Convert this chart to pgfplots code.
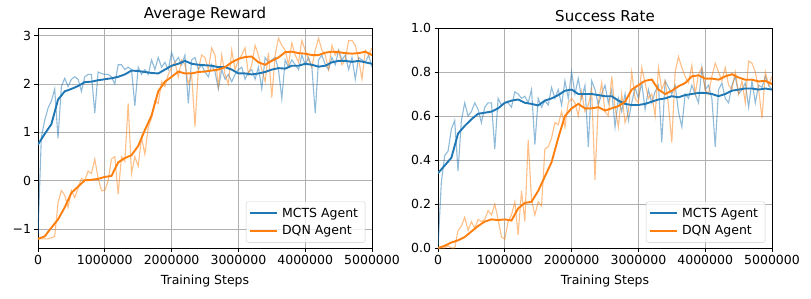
\documentclass[border=0pt]{standalone}
\usepackage{fontspec}
\setmainfont{DejaVu Sans}
\usepackage{pgfplots}
\usepackage{pgfplotstable}
\pgfplotsset{compat=1.18}
\definecolor{tblue}{HTML}{1F77B4}
\definecolor{torange}{HTML}{FF7F0E}
\definecolor{gridgray}{HTML}{B0B0B0}

\pgfplotstableread{
x mr dr ms ds
0 -1.1 -1.2 0.0 0.0
50000 0.9 -1.2 0.30 0.0
100000 1.25 -1.2 0.42 0.0
150000 1.5 -1.2 0.44 0.01
200000 1.65 -1.18 0.54 0.0
250000 1.9 -1.15 0.58 0.0
300000 0.88 -0.45 0.35 0.08
350000 1.95 -0.2 0.58 0.10
400000 2.12 -0.3 0.66 0.14
450000 1.95 -0.55 0.60 0.08
500000 2.1 -0.2 0.62 0.12
550000 2.15 -0.35 0.66 0.09
600000 2.1 -0.15 0.63 0.13
650000 1.85 0.05 0.57 0.12
700000 2.15 0.0 0.64 0.13
750000 2.2 0.2 0.66 0.17
800000 2.2 0.15 0.66 0.15
850000 1.4 0.45 0.45 0.20
900000 2.25 0.05 0.68 0.13
950000 2.22 -0.2 0.65 0.05
1000000 2.2 -0.2 0.66 0.04
1050000 2.2 0.0 0.66 0.12
1100000 2.15 0.45 0.64 0.15
1150000 2.0 0.5 0.71 0.21
1200000 2.4 -0.28 0.70 0.06
1250000 2.4 0.5 0.68 0.26
1300000 2.3 0.4 0.69 0.12
1350000 2.35 1.6 0.66 0.49
1400000 2.3 0.15 0.72 0.22
1450000 1.55 0.5 0.47 0.15
1500000 2.35 0.3 0.68 0.21
1550000 2.2 0.9 0.64 0.19
1600000 2.3 0.55 0.67 0.45
1650000 2.2 1.1 0.65 0.46
1700000 2.5 1.3 0.73 0.50
1750000 2.3 1.65 0.68 0.57
1800000 2.55 1.6 0.72 0.56
1850000 2.35 2.05 0.65 0.62
1900000 2.45 1.95 0.76 0.55
1950000 2.3 2.2 0.68 0.66
2000000 2.65 2.35 0.80 0.68
2050000 2.45 2.45 0.70 0.66
2100000 2.55 2.15 0.77 0.60
2150000 2.4 2.5 0.68 0.71
2200000 2.6 2.4 0.74 0.62
2250000 1.6 2.0 0.46 0.65
2300000 2.5 2.2 0.76 0.72
2350000 2.55 1.12 0.72 0.31
2400000 2.3 2.3 0.65 0.66
2450000 2.4 2.6 0.70 0.75
2500000 2.25 2.55 0.74 0.62
2550000 2.15 2.3 0.66 0.60
2600000 2.4 2.75 0.72 0.78
2650000 2.25 2.6 0.55 0.64
2700000 1.9 1.95 0.68 0.55
2750000 2.3 2.6 0.62 0.70
2800000 2.1 2.2 0.70 0.57
2850000 2.2 2.0 0.58 0.62
2900000 2.05 2.7 0.66 0.80
2950000 2.2 2.3 0.73 0.68
3000000 2.3 2.5 0.68 0.66
3050000 2.35 2.6 0.75 0.82
3100000 2.1 2.75 0.63 0.75
3150000 2.25 2.2 0.72 0.68
3200000 2.3 2.4 0.66 0.70
3250000 2.1 2.8 0.71 0.60
3300000 2.35 2.6 0.74 0.82
3350000 1.9 2.3 0.48 0.72
3400000 2.55 2.05 0.76 0.76
3450000 2.45 2.65 0.73 0.65
3500000 2.5 1.72 0.70 0.48
3550000 2.55 2.6 0.74 0.80
3600000 2.3 2.95 0.62 0.87
3650000 1.7 2.8 0.55 0.82
3700000 2.5 2.7 0.70 0.78
3750000 2.35 2.4 0.68 0.75
3800000 2.5 2.85 0.74 0.83
3850000 2.4 2.6 0.70 0.70
3900000 2.3 2.45 0.66 0.79
3950000 2.6 2.9 0.82 0.82
4000000 2.4 2.7 0.72 0.72
4050000 2.55 2.5 0.74 0.70
4100000 2.35 2.35 0.68 0.78
4150000 1.4 2.7 0.46 0.84
4200000 2.5 2.95 0.72 0.80
4250000 2.6 2.7 0.75 0.76
4300000 2.4 2.6 0.68 0.82
4350000 2.3 2.3 0.66 0.74
4400000 2.55 2.8 0.74 0.72
4450000 2.4 2.6 0.78 0.80
4500000 2.7 2.7 0.70 0.70
4550000 2.5 2.4 0.72 0.76
4600000 2.6 2.5 0.75 0.66
4650000 2.3 2.9 0.64 0.85
4700000 2.55 2.9 0.76 0.84
4750000 2.1 2.8 0.66 0.80
4800000 2.55 2.5 0.74 0.72
4850000 2.5 2.1 0.73 0.59
4900000 2.45 2.7 0.78 0.80
4950000 2.6 2.6 0.74 0.74
5000000 2.35 2.75 0.72 0.78
}\rawdata

\pgfplotstableread{
x mr dr ms ds
0 0.75 -1.2 0.34 0.0
100000 0.97 -1.15 0.375 0.01
200000 1.17 -0.97 0.41 0.025
300000 1.68 -0.8 0.52 0.035
400000 1.85 -0.55 0.555 0.05
500000 1.9 -0.25 0.585 0.075
600000 1.96 -0.12 0.61 0.1
700000 2.04 0.01 0.615 0.12
800000 2.05 0.02 0.62 0.13
900000 2.08 0.04 0.635 0.127
1000000 2.1 0.08 0.66 0.13
1100000 2.12 0.1 0.67 0.125
1200000 2.15 0.38 0.675 0.18
1300000 2.2 0.47 0.66 0.205
1400000 2.28 0.53 0.655 0.21
1500000 2.27 0.72 0.648 0.26
1600000 2.25 1.05 0.67 0.325
1700000 2.23 1.35 0.68 0.39
1800000 2.22 1.85 0.695 0.5
1900000 2.3 2.05 0.715 0.6
2000000 2.38 2.15 0.72 0.635
2100000 2.42 2.26 0.70 0.655
2200000 2.48 2.22 0.70 0.635
2300000 2.42 2.22 0.70 0.635
2400000 2.4 2.25 0.695 0.64
2500000 2.39 2.26 0.69 0.625
2600000 2.38 2.28 0.69 0.635
2700000 2.35 2.3 0.67 0.645
2800000 2.35 2.35 0.655 0.665
2900000 2.3 2.45 0.65 0.72
3000000 2.22 2.52 0.65 0.74
3100000 2.22 2.56 0.655 0.76
3200000 2.2 2.57 0.665 0.766
3300000 2.22 2.45 0.675 0.72
3400000 2.25 2.4 0.68 0.70
3500000 2.3 2.48 0.69 0.715
3600000 2.33 2.55 0.685 0.735
3700000 2.32 2.66 0.695 0.75
3800000 2.38 2.67 0.70 0.78
3900000 2.38 2.64 0.705 0.785
4000000 2.42 2.63 0.705 0.77
4100000 2.4 2.6 0.70 0.77
4200000 2.36 2.6 0.69 0.765
4300000 2.38 2.65 0.70 0.78
4400000 2.45 2.67 0.715 0.79
4500000 2.48 2.66 0.72 0.775
4600000 2.48 2.64 0.725 0.765
4700000 2.46 2.63 0.725 0.765
4800000 2.48 2.64 0.72 0.757
4900000 2.45 2.67 0.725 0.76
5000000 2.42 2.6 0.72 0.745
}\smoothdata

\pgfplotsset{
  myax/.style={
    scale only axis, width=334pt, height=220pt, anchor=south west,
    xmin=0, xmax=5000000, scaled x ticks=false,
    xtick={0,1000000,2000000,3000000,4000000,5000000},
    xticklabels={0,1000000,2000000,3000000,4000000,5000000},
    tick pos=left, tick align=outside, major tick length=3.5pt,
    grid=major, grid style={gridgray, line width=0.8pt},
    axis line style={line width=0.8pt},
    every tick/.style={black, line width=0.8pt},
    tick label style={font=\fontsize{12.5}{14}\selectfont},
    label style={font=\fontsize{12.5}{14}\selectfont},
    title style={font=\fontsize{15}{18}\selectfont, yshift=-3pt},
    xlabel={Training Steps},
    xlabel style={yshift=-4pt},
    legend cell align=left,
    legend style={at={(0.98,0.025)}, anchor=south east, draw=gray!40,
      rounded corners=2pt, fill=white, fill opacity=0.8, text opacity=1,
      font=\fontsize{12.5}{14}\selectfont, inner xsep=3pt, inner ysep=4pt,
      row sep=3pt,
      nodes={inner xsep=4pt}},
    legend image code/.code={\draw[#1] (0pt,0pt) -- (27pt,0pt);},
  },
  rawline/.style={line width=1.1pt, opacity=0.5, forget plot},
  smline/.style={line width=1.9pt},
}

\begin{document}
\begin{tikzpicture}
\useasboundingbox (0,0) rectangle (811pt,298pt);
\begin{axis}[myax, at={(38pt,50pt)}, title={Average Reward},
  ymin=-1.39, ymax=3.16, ytick={-1,0,1,2,3}, yticklabels={−1,0,1,2,3}]
  \addplot[rawline, tblue] table[x=x, y=mr] {\rawdata};
  \addplot[rawline, torange] table[x=x, y=dr] {\rawdata};
  \addplot[smline, tblue] table[x=x, y=mr] {\smoothdata};
  \addlegendentry{MCTS Agent}
  \addplot[smline, torange] table[x=x, y=dr] {\smoothdata};
  \addlegendentry{DQN Agent}
\end{axis}
\begin{axis}[myax, at={(438pt,50pt)}, title={Success Rate},
  ymin=0, ymax=1, ytick={0,0.2,0.4,0.6,0.8,1.0}, yticklabels={0.0,0.2,0.4,0.6,0.8,1.0}]
  \addplot[rawline, tblue] table[x=x, y=ms] {\rawdata};
  \addplot[rawline, torange] table[x=x, y=ds] {\rawdata};
  \addplot[smline, tblue] table[x=x, y=ms] {\smoothdata};
  \addlegendentry{MCTS Agent}
  \addplot[smline, torange] table[x=x, y=ds] {\smoothdata};
  \addlegendentry{DQN Agent}
\end{axis}
\end{tikzpicture}
\end{document}
